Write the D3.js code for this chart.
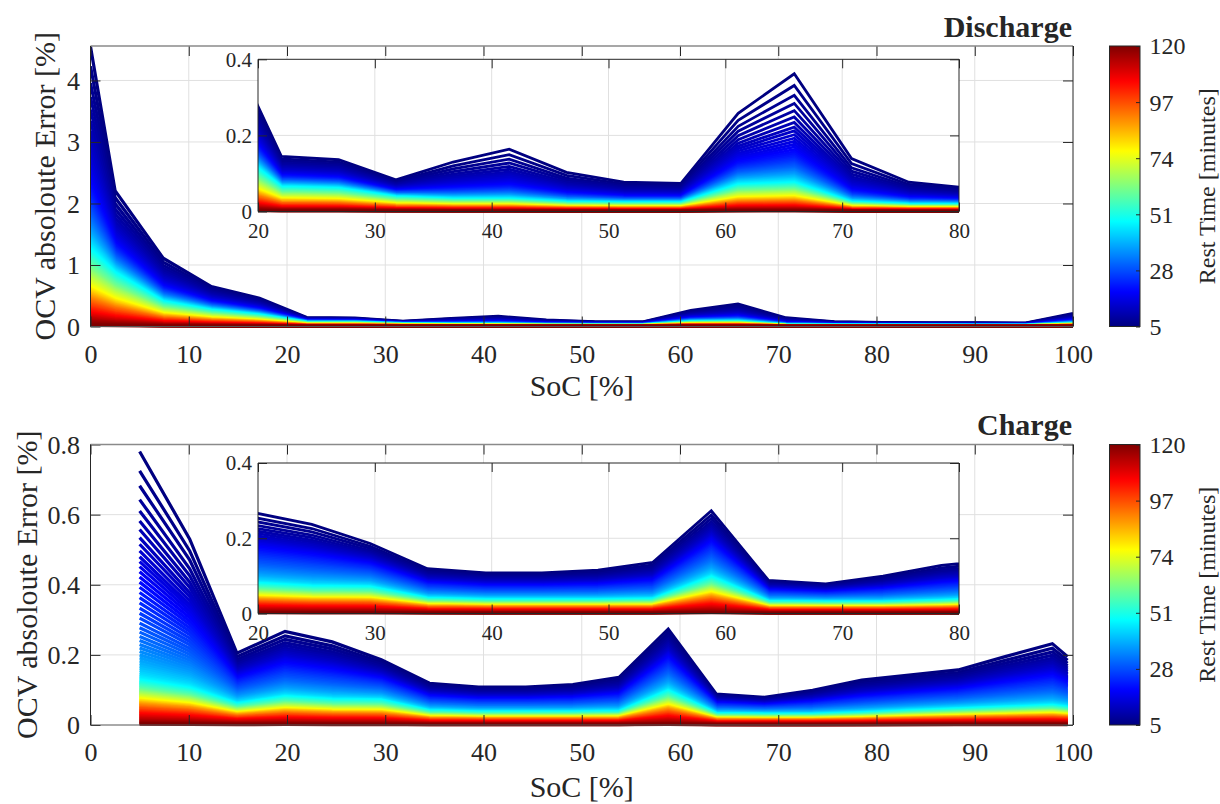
<!DOCTYPE html>
<html><head><meta charset="utf-8">
<script src="https://cdn.jsdelivr.net/npm/d3@7"></script>
<style>
body{margin:0;background:#fff}
svg{display:block}
text{font-family:"Liberation Serif","Times New Roman",serif;fill:#262626}
</style></head><body>
<svg id="c" width="1220" height="804"></svg>
<script>
// ---------------- DATA ----------------
const restTimes = [5,6,7,8,9,10,11,12,13,14,15,16,17,18,19,20,21,22,23,24,25,26,27,28,29,30,31,32,33,34,35,36,37,38,39,40,41,42,43,44,45,46,47,48,49,50,51,52,53,54,55,56,57,58,59,60,61,62,63,64,65,66,67,68,69,70,71,72,73,74,75,76,77,78,79,80,81,82,83,84,85,86,87,88,89,90,91,92,93,94,95,96,97,98,99,100,101,102,103,104,105,106,107,108,109,110,111,112,113,114,115,116,117,118,119,120];

// Discharge: SoC points, error at 5 min rest, error at 48 min rest (cyan level)
const dischargeSoC = [0,2.5,7.4,12.3,17.2,22.0,26.9,31.8,36.7,41.5,46.4,51.3,56.2,61.1,65.9,70.8,75.7,80.6,85.5,90.4,95.2,100];
const dischargeTop = [4.55,2.21,1.11,0.65,0.46,0.145,0.136,0.083,0.13,0.164,0.103,0.077,0.074,0.258,0.362,0.139,0.077,0.062,0.06,0.058,0.056,0.21];
const dischargeMid = [1.256,0.87,0.40,0.26,0.18,0.064,0.06,0.038,0.032,0.032,0.024,0.022,0.022,0.07,0.075,0.024,0.018,0.017,0.016,0.015,0.015,0.045];
// fraction of the 5-min error remaining at each rest time (read along SoC 0)
const dischargeRatio = [1.000,.930,.870,.820,.775,.735,.700,.670,.645,.620,.597,.576,.556,.538,.521,.505,
.491,.478,.466,.455,.444,.434,.424,.415,.406,.397,.389,.381,.373,.365,.358,.351,.344,.337,.330,.324,.318,.312,.306,.300,.294,.288,.282,.276,.270,.264,
.259,.254,.249,.244,.239,.234,.229,.224,.219,.214,.209,.204,.200,
.196,.192,.188,.184,.179,.175,.171,.166,.162,.157,.153,.149,.145,.140,
.137,.134,.131,.128,.125,.122,.119,.116,.113,.110,.107,.104,.101,.098,.095,
.092,.088,.085,.081,.078,.075,.071,.068,.065,.061,.058,.055,.051,.048,
.045,.042,.039,.036,.033,.030,.027,.024,.021,.018,.015,.011,.008,.004];

// Charge
const chargeSoC = [5,10.1,14.9,19.8,24.6,29.6,34.5,39.5,44.3,49.1,53.8,58.8,63.7,68.6,73.5,78.5,83.3,88.3,93.1,97.9,99.45];
const chargeTop = [0.78,0.53,0.205,0.267,0.237,0.186,0.119,0.108,0.108,0.115,0.136,0.273,0.088,0.079,0.099,0.128,0.142,0.157,0.195,0.232,0.195];
const chargeMid = [0.128,0.105,0.06,0.08,0.072,0.07,0.04,0.036,0.036,0.036,0.038,0.097,0.032,0.03,0.03,0.034,0.04,0.045,0.05,0.055,0.05];
const chargeRatio = [1.000,.929,.874,.823,.781,.744,.713,.683,.659,.635,.613,.595,.577,.558,.539,.520,
.501,.482,.463,.444,.425,.406,.388,.370,.353,.337,.321,.306,.292,.279,.266,.254,.243,.232,.222,.213,.205,.197,.189,.182,.176,.171,.166,.162,.158,.155,
.152,.149,.146,.143,.140,.137,.134,.131,.129,.126,.124,.122,.120,
.118,.116,.114,.112,.110,.108,.106,.104,.102,.100,.098,.096,.094,.092,
.090,.089,.087,.086,.084,.083,.081,.080,.078,.076,.075,.073,.071,.069,.067,
.065,.063,.061,.059,.057,.054,.052,.050,.048,.046,.044,.041,.039,.037,
.034,.032,.029,.027,.024,.022,.019,.017,.014,.012,.009,.007,.005,.003];

const mainXTicks = [0,10,20,30,40,50,60,70,80,90,100];
const dischargeYTicks = [0,1,2,3,4];
const chargeYTicks = [0,0.2,0.4,0.6,0.8];
const insetXTicks = [20,30,40,50,60,70,80];
const insetYTicks = [0,0.2,0.4];
const colorbarTicks = [5,28,51,74,97,120];
const panelTitles = ["Discharge","Charge"];

// ---------------- HELPERS ----------------
const svg = d3.select("#c");
const defs = svg.append("defs");
const FONT = '"Liberation Serif","Times New Roman",serif';
const AX = "#262626";

function jet(f){
  const c = v => Math.max(0, Math.min(1, v));
  return d3.rgb(255*c(1.5-Math.abs(4*f-3)), 255*c(1.5-Math.abs(4*f-2)), 255*c(1.5-Math.abs(4*f-1))).formatHex();
}
const colorPos = d3.scaleLinear().domain([5,120]).range([0,1]);

// each line: from the 5-min error down to the 48-min (cyan) level following the
// read decay profile, then below the cyan level proportionally to that profile
function buildSeries(soc, top, mid, ratio){
  const jRef = restTimes.indexOf(48);
  const ref = ratio[jRef];
  const k = top.map((v,i) => Math.log(mid[i]/v)/Math.log(ref));
  return restTimes.map((t,j) => ({t, pts: soc.map((s,i) =>
    [s, j <= jRef ? top[i]*Math.pow(ratio[j], k[i]) : mid[i]*ratio[j]/ref])}));
}

let clipN = 0;
function drawAxes(g, box, xDom, yDom, xTicks, yTicks, series, o){
  const x = d3.scaleLinear().domain(xDom).range([box.x0, box.x1]);
  const y = d3.scaleLinear().domain(yDom).range([box.y1, box.y0]);
  g.append("rect").attr("x",box.x0).attr("y",box.y0).attr("width",box.x1-box.x0).attr("height",box.y1-box.y0).attr("fill","#fff");
  // grid
  const grid = g.append("g").attr("stroke","#e0e0e0").attr("stroke-width",1);
  grid.selectAll(".gx").data(xTicks.filter(v=>v>xDom[0]&&v<xDom[1])).join("line")
    .attr("x1",d=>x(d)).attr("x2",d=>x(d)).attr("y1",box.y0).attr("y2",box.y1);
  grid.selectAll(".gy").data(yTicks.filter(v=>v>yDom[0]&&v<yDom[1])).join("line")
    .attr("y1",d=>y(d)).attr("y2",d=>y(d)).attr("x1",box.x0).attr("x2",box.x1);
  // lines
  const id = "clip"+(clipN++);
  defs.append("clipPath").attr("id",id).append("rect")
    .attr("x",box.x0).attr("y",box.y0).attr("width",box.x1-box.x0).attr("height",box.y1-box.y0+2);
  const line = d3.line().x(d=>x(d[0])).y(d=>y(d[1]));
  g.append("g").attr("clip-path",`url(#${id})`).selectAll("path").data(series).join("path")
    .attr("d",d=>line(d.pts)).attr("fill","none")
    .attr("stroke",d=>jet(colorPos(d.t))).attr("stroke-width",o.sw)
    .attr("stroke-linejoin","miter").attr("stroke-miterlimit",3);
  // axes
  const fmt = d => String(d);
  const ts = o.tick;
  const bottom = g.append("g").attr("transform",`translate(0,${box.y1})`)
    .call(d3.axisBottom(x).tickValues(xTicks).tickSize(-ts).tickFormat(fmt));
  bottom.selectAll("text").attr("y",o.xLab).attr("dy",null).attr("font-size",o.fs).attr("font-family",FONT).attr("fill",AX);
  const left = g.append("g").attr("transform",`translate(${box.x0},0)`)
    .call(d3.axisLeft(y).tickValues(yTicks).tickSize(-ts).tickFormat(fmt));
  left.selectAll("text").attr("x",-o.yLab).attr("dy","0.33em").attr("font-size",o.fs).attr("font-family",FONT).attr("fill",AX);
  const topA = g.append("g").attr("transform",`translate(0,${box.y0})`)
    .call(d3.axisTop(x).tickValues(xTicks).tickSize(-ts).tickFormat(""));
  const rightA = g.append("g").attr("transform",`translate(${box.x1},0)`)
    .call(d3.axisRight(y).tickValues(yTicks).tickSize(-ts).tickFormat(""));
  [bottom,left,topA,rightA].forEach(a=>{a.select(".domain").remove(); a.selectAll("line").attr("stroke",AX);});
  // frame
  const fr = g.append("g").attr("fill","none");
  fr.append("line").attr("x1",box.x0).attr("x2",box.x1).attr("y1",box.y0).attr("y2",box.y0).attr("stroke",o.inset?AX:"#8a8a8a").attr("stroke-width",o.inset?1:1.5);
  fr.append("line").attr("x1",box.x0).attr("x2",box.x1).attr("y1",box.y1).attr("y2",box.y1).attr("stroke",o.inset?AX:"#555").attr("stroke-width",1);
  fr.append("line").attr("x1",box.x0).attr("x2",box.x0).attr("y1",box.y0).attr("y2",box.y1).attr("stroke",AX).attr("stroke-width",1);
  fr.append("line").attr("x1",box.x1).attr("x2",box.x1).attr("y1",box.y0).attr("y2",box.y1).attr("stroke",AX).attr("stroke-width",1);
}

// colorbar gradient
const grad = defs.append("linearGradient").attr("id","jetGrad").attr("x1",0).attr("y1",1).attr("x2",0).attr("y2",0);
grad.selectAll("stop").data(restTimes).join("stop")
  .attr("offset",d=>colorPos(d)).attr("stop-color",d=>jet(colorPos(d)));

function drawColorbar(g, box){
  const y = d3.scaleLinear().domain([5,120]).range([box.y1, box.y0]);
  g.append("rect").attr("x",box.x0).attr("y",box.y0).attr("width",box.x1-box.x0).attr("height",box.y1-box.y0)
    .attr("fill","url(#jetGrad)").attr("stroke",AX).attr("stroke-width",1);
  const a = g.append("g").attr("transform",`translate(${box.x1},0)`)
    .call(d3.axisRight(y).tickValues(colorbarTicks).tickSize(-4).tickPadding(9.5).tickFormat(d=>String(d)));
  a.select(".domain").remove();
  a.selectAll("line").attr("stroke",AX);
  a.selectAll("text").attr("font-size",24).attr("font-family",FONT).attr("fill",AX).attr("dy","0.33em");
  g.append("text").attr("transform",`translate(1215,${(box.y0+box.y1)/2}) rotate(-90)`)
    .attr("text-anchor","middle").attr("font-size",24).text("Rest Time [minutes]");
}

// ---------------- PANELS ----------------
const panels = [
  {title: panelTitles[0], soc: dischargeSoC, top: dischargeTop, mid: dischargeMid, ratio: dischargeRatio,
   yMax: 4.56, yTicks: dischargeYTicks, y0: 46, y1: 326.5, iy0: 59.3, iy1: 211.5, ylabX: 55, xlabY: 396, titleY: 36.7},
  {title: panelTitles[1], soc: chargeSoC, top: chargeTop, mid: chargeMid, ratio: chargeRatio,
   yMax: 0.8, yTicks: chargeYTicks, y0: 444.5, y1: 725, iy0: 463, iy1: 613.5, ylabX: 37, xlabY: 797, titleY: 435.2}
];

panels.forEach(p=>{
  const series = buildSeries(p.soc, p.top, p.mid, p.ratio);
  const g = svg.append("g");
  drawAxes(g, {x0:90.5, x1:1073, y0:p.y0, y1:p.y1}, [0,100], [0,p.yMax], mainXTicks, p.yTicks, series,
    {sw:3.2, tick:10, fs:26, xLab:36, yLab:10.5, inset:false});
  const gi = svg.append("g");
  drawAxes(gi, {x0:258, x1:959, y0:p.iy0, y1:p.iy1}, [20,80], [0,0.4], insetXTicks, insetYTicks, series,
    {sw:2.8, tick:9, fs:21, xLab:26, yLab:6, inset:true});
  drawColorbar(svg.append("g"), {x0:1109.5, x1:1140, y0:p.y0, y1:p.y1});
  svg.append("text").attr("x",1072).attr("y",p.titleY).attr("text-anchor","end")
    .attr("font-size",30).attr("font-weight","bold").attr("fill","#000").text(p.title);
  svg.append("text").attr("x",581.75).attr("y",p.xlabY).attr("text-anchor","middle").attr("font-size",30).text("SoC [%]");
  svg.append("text").attr("transform",`translate(${p.ylabX},${(p.y0+p.y1)/2}) rotate(-90)`)
    .attr("text-anchor","middle").attr("font-size",30).text("OCV absoloute Error [%]");
});
</script></body></html>
